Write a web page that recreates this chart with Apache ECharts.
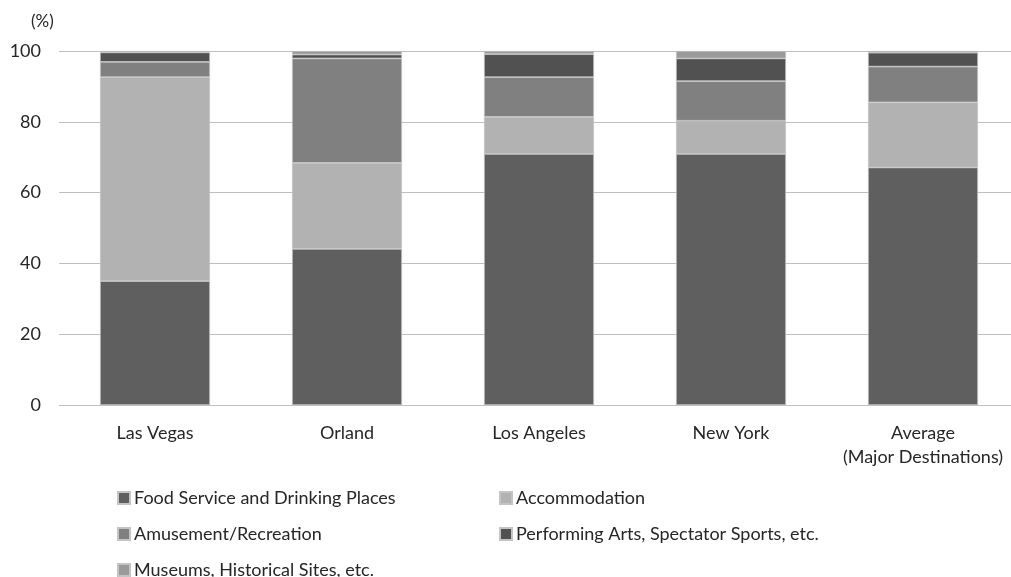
<!DOCTYPE html>
<html>
<head>
<meta charset="utf-8">
<script src="https://cdn.jsdelivr.net/npm/echarts@6/dist/echarts.min.js"></script>
<style>
  html, body { margin: 0; padding: 0; background: #fff; overflow: hidden; }
  #chart { width: 1019px; height: 577px; }
</style>
</head>
<body>
<div id="chart"></div>
<script>
// Share of visitor spending by industry (%), stacked per destination
const categories = ['Las Vegas', 'Orland', 'Los Angeles', 'New York', 'Average\n(Major Destinations)'];
const seriesNames = [
  'Food Service and Drinking Places',
  'Accommodation',
  'Amusement/Recreation',
  'Performing Arts, Spectator Sports, etc.',
  'Museums, Historical Sites, etc.'
];
const foodService   = [35.0, 44.1, 70.9, 70.9, 67.1];
const accommodation = [57.6, 24.3, 10.5,  9.4, 18.4];
const amusement     = [ 4.3, 29.5, 11.2, 11.2, 10.1];
const performing    = [ 2.7,  1.1,  6.5,  6.4,  3.9];
const museums       = [ 0.4,  1.0,  0.9,  2.1,  0.5];
const yTicks = [0, 20, 40, 60, 80, 100];

const values = [foodService, accommodation, amusement, performing, museums];
const colors = ['#5f5f5f', '#b2b2b2', '#808080', '#515151', '#9a9a9a'];
const FONT = 'Lato, "Open Sans", sans-serif';
const TEXT = '#262626';

// Legend items laid out in two columns
const legendSpots = [
  { left: 112, top: 484 },
  { left: 494, top: 484 },
  { left: 112, top: 520 },
  { left: 494, top: 520 },
  { left: 112, top: 556 }
];

const chart = echarts.init(document.getElementById('chart'), null, { renderer: 'canvas' });
chart.setOption({
  animation: false,
  backgroundColor: '#ffffff',
  title: {
    text: '(%)',
    left: 26, top: 8,
    textStyle: { fontFamily: FONT, fontSize: 17, fontWeight: 'normal', color: TEXT }
  },
  grid: { left: 59, top: 51, width: 960, height: 354 },
  legend: seriesNames.map((name, i) => ({
    data: [name],
    left: legendSpots[i].left,
    top: legendSpots[i].top,
    itemWidth: 12, itemHeight: 12, itemGap: 0,
    icon: 'rect',
    textStyle: { fontFamily: FONT, fontSize: 18, color: TEXT, padding: [0, 0, 0, -1] }
  })),
  xAxis: {
    type: 'category',
    data: categories,
    axisLine: { show: false },
    axisTick: { show: false },
    axisLabel: {
      fontFamily: FONT, fontSize: 18, color: TEXT,
      margin: 16, lineHeight: 24, interval: 0
    }
  },
  yAxis: {
    type: 'value',
    min: 0, max: 100, interval: 20,
    axisLine: { show: false },
    axisTick: { show: false },
    axisLabel: {
      fontFamily: FONT, fontSize: 18, color: TEXT, margin: 18,
      formatter: v => (yTicks.includes(v) ? String(v) : '')
    },
    splitLine: { lineStyle: { color: '#bfbfbf', width: 1 } }
  },
  series: seriesNames.map((name, i) => ({
    name,
    type: 'bar',
    stack: 'share',
    barWidth: 110,
    data: values[i],
    itemStyle: { color: colors[i], borderColor: '#c4c4c4', borderWidth: 0.7 }
  }))
});
</script>
</body>
</html>
